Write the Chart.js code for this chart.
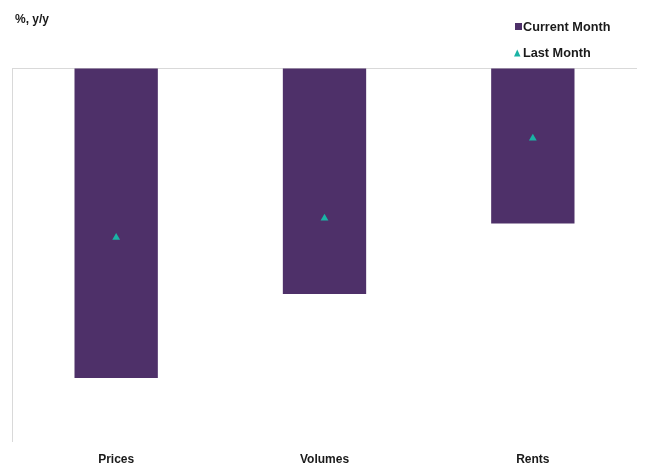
<!DOCTYPE html>
<html>
<head>
<meta charset="utf-8">
<script src="https://cdn.jsdelivr.net/npm/chart.js@4/dist/chart.umd.min.js"></script>
<style>
  html, body { margin: 0; padding: 0; background: #fff; overflow: hidden; }
  canvas { display: block; }
</style>
</head>
<body>
<canvas id="chart" width="646" height="466"></canvas>
<script>
// data (% y/y)
var categories = ['Prices', 'Volumes', 'Rents'];
var currentMonth = [-29.1, -21.2, -14.6];
var lastMonth = [-15.9, -14.1, -6.6];
var yTicks = [0, -5, -10, -15, -20, -25, -30, -35];

var purple = '#4e3069';
var teal = '#1ab3a5';
var fontFamily = '"Liberation Sans", Arial, sans-serif';

// unit label top-left and the stacked legend top-right
var annotations = {
	id: 'annotations',
	afterDraw: function(chart) {
		var ctx = chart.ctx;
		ctx.save();
		ctx.font = 'bold 12px ' + fontFamily;
		ctx.fillStyle = '#1a1a1a';
		ctx.textBaseline = 'middle';
		ctx.textAlign = 'left';
		ctx.fillText('%, y/y', 15, 20);

		ctx.font = 'bold 12.7px ' + fontFamily;
		var items = chart.data.datasets;
		// bar dataset first, triangle second
		var rows = [26.5, 53];
		for (var i = 0; i < items.length; i++) {
			var d = items[i];
			var y = rows[i];
			ctx.fillStyle = d.backgroundColor;
			if (d.type === 'line') {
				ctx.beginPath();
				ctx.moveTo(514, y + 3.5);
				ctx.lineTo(520.5, y + 3.5);
				ctx.lineTo(517.25, y - 3.5);
				ctx.closePath();
				ctx.fill();
			} else {
				ctx.fillRect(515, y - 3.5, 7, 7);
			}
			ctx.fillStyle = '#1a1a1a';
			ctx.fillText(d.label, 523, y + 0.5);
		}
		ctx.restore();
	}
};

new Chart(document.getElementById('chart'), {
	type: 'bar',
	data: {
		labels: categories,
		datasets: [
			{
				label: 'Current Month',
				data: currentMonth,
				backgroundColor: purple,
				barPercentage: 0.4,
				categoryPercentage: 1.0,
				order: 2
			},
			{
				type: 'line',
				label: 'Last Month',
				data: lastMonth,
				backgroundColor: teal,
				borderColor: teal,
				showLine: false,
				pointStyle: 'triangle',
				pointRadius: 4.5,
				pointBorderWidth: 0,
				order: 1
			}
		]
	},
	options: {
		responsive: false,
		animation: false,
		devicePixelRatio: 1,
		layout: { padding: { top: 68, left: 12, right: 9, bottom: 0 } },
		plugins: {
			legend: { display: false },
			tooltip: { enabled: false }
		},
		scales: {
			x: {
				grid: { display: false, drawTicks: false },
				border: { display: false },
				afterFit: function(axis) { axis.height = 25; },
				ticks: {
					padding: 11,
					color: '#1a1a1a',
					font: { family: fontFamily, size: 12, weight: 'bold' }
				}
			},
			y: {
				min: -35,
				max: 0,
				afterBuildTicks: function(axis) {
					axis.ticks = yTicks.map(function(v) { return { value: v }; });
				},
				ticks: { display: false },
				grid: {
					drawTicks: false,
					color: function(c) { return c.tick && c.tick.value === 0 ? '#d9d9d9' : 'rgba(0,0,0,0)'; },
					lineWidth: 1
				},
				border: { display: true, color: '#d9d9d9', width: 1 }
			}
		}
	},
	plugins: [annotations]
});
</script>
</body>
</html>
